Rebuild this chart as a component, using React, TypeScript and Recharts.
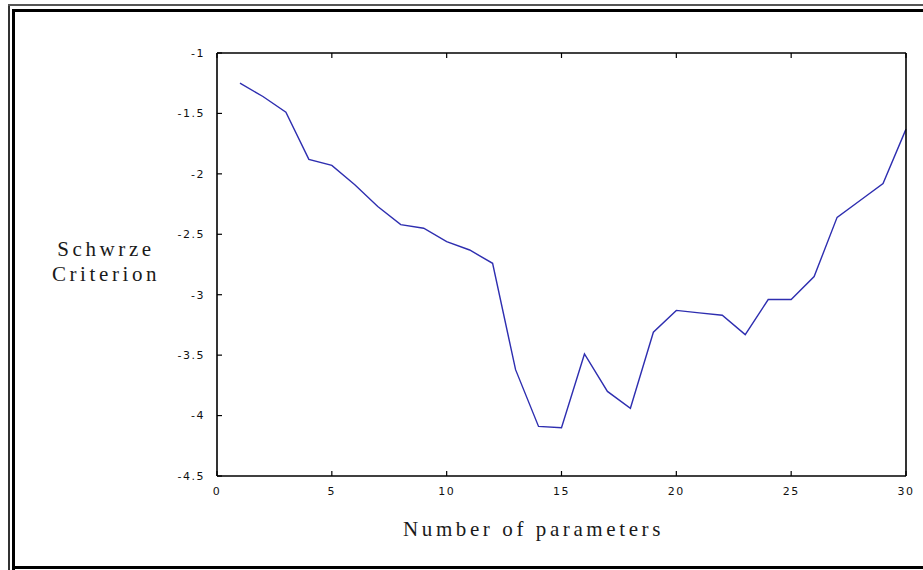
import React from 'react';
import { LineChart, Line, XAxis, YAxis } from 'recharts';

const paramCounts = [1,2,3,4,5,6,7,8,9,10,11,12,13,14,15,16,17,18,19,20,21,22,23,24,25,26,27,28,29,30];
const criterionValues = [-1.25,-1.36,-1.49,-1.88,-1.93,-2.09,-2.27,-2.42,-2.45,-2.56,-2.63,-2.74,-3.62,-4.09,-4.10,-3.49,-3.80,-3.94,-3.31,-3.13,-3.15,-3.17,-3.33,-3.04,-3.04,-2.85,-2.36,-2.22,-2.08,-1.63];
const xTicks = [0,5,10,15,20,25,30];
const yTicks = [-4.5,-4,-3.5,-3,-2.5,-2,-1.5,-1];

const data = paramCounts.map((n, i) => ({ n, v: criterionValues[i] }));

const tickStyle = { fontFamily: 'DejaVu Sans', fontSize: 11, fill: '#111', letterSpacing: 1.5 };
const labelStyle = { fontFamily: 'Liberation Serif', fontSize: 21, fill: '#1a1a1a', letterSpacing: 3.6 };

const YLabel = (props: any) => {
  const vb = props.viewBox || { x: 0, y: 0, width: 0, height: 0 };
  const cx = vb.x - 51;
  const cy = vb.y + vb.height / 2;
  return (
    <text x={cx} y={cy} textAnchor="middle" style={labelStyle}>
      <tspan x={cx} y={cy - 9}>Schwrze</tspan>
      <tspan x={cx} y={cy + 16}>Criterion</tspan>
    </text>
  );
};

const XLabel = (props: any) => {
  const vb = props.viewBox || { x: 0, y: 0, width: 0, height: 0 };
  const cx = vb.x + vb.width / 2 - 28;
  const cy = vb.y + vb.height + 30;
  return (
    <text x={cx} y={cy} textAnchor="middle" style={labelStyle}>Number of parameters</text>
  );
};

const axisLineStyle = { stroke: '#000', strokeWidth: 1.6 };
const tickLineStyle = { stroke: '#000', strokeWidth: 1.2 };

export default function App() {
  return (
    <div style={{ position: 'absolute', left: 0, top: 0, width: 923, height: 570, background: '#fff', overflow: 'hidden' }}>
      <div style={{ position: 'absolute', left: 8, top: 4, width: 2, height: 570, background: '#333' }} />
      <div style={{ position: 'absolute', left: 8, top: 4, width: 923, height: 2, background: '#555' }} />
      <div style={{ position: 'absolute', left: 12, top: 9, width: 3, height: 570, background: '#000' }} />
      <div style={{ position: 'absolute', left: 12, top: 9, width: 923, height: 3, background: '#000' }} />
      <div style={{ position: 'absolute', left: 12, top: 566, width: 923, height: 3, background: '#000' }} />
      <div style={{ position: 'absolute', left: 0, top: 0 }}>
        <LineChart width={923} height={570} data={data} margin={{ top: 52, right: 16, left: 157, bottom: 64 }}>
          <XAxis
            xAxisId="b"
            dataKey="n"
            type="number"
            domain={[0, 30]}
            ticks={xTicks}
            height={30}
            tickSize={-5}
            tickMargin={16}
            tick={tickStyle}
            axisLine={axisLineStyle}
            tickLine={tickLineStyle}
            interval={0}
            label={<XLabel />}
          />
          <XAxis
            xAxisId="t"
            orientation="top"
            dataKey="n"
            type="number"
            domain={[0, 30]}
            ticks={xTicks}
            height={1}
            tickSize={-5}
            tickFormatter={() => ''}
            axisLine={axisLineStyle}
            tickLine={tickLineStyle}
            interval={0}
          />
          <YAxis
            yAxisId="l"
            type="number"
            domain={[-4.5, -1]}
            ticks={yTicks}
            width={60}
            tickSize={-5}
            tickMargin={17}
            tick={tickStyle}
            axisLine={axisLineStyle}
            tickLine={tickLineStyle}
            interval={0}
            label={<YLabel />}
          />
          <YAxis
            yAxisId="r"
            orientation="right"
            type="number"
            domain={[-4.5, -1]}
            ticks={yTicks}
            width={1}
            tickSize={-5}
            tickFormatter={() => ''}
            axisLine={axisLineStyle}
            tickLine={tickLineStyle}
            interval={0}
          />
          <Line
            xAxisId="b"
            yAxisId="l"
            type="linear"
            dataKey="v"
            stroke="#2e2eb0"
            strokeWidth={1.4}
            dot={false}
            isAnimationActive={false}
          />
        </LineChart>
      </div>
    </div>
  );
}
